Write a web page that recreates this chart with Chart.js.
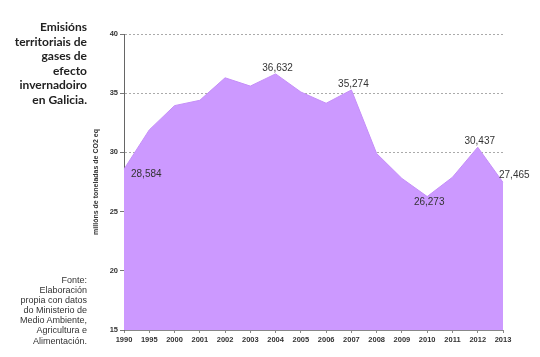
<!DOCTYPE html>
<html>
<head>
<meta charset="utf-8">
<script src="https://cdn.jsdelivr.net/npm/chart.js@4"></script>
<style>
  html,body{margin:0;padding:0;background:#fff;}
  #wrap{position:relative;width:540px;height:357px;}
  #title{position:absolute;right:453px;top:20px;width:90px;text-align:right;font-family:Lato,"Open Sans",sans-serif;font-weight:bold;font-size:12px;line-height:14.6px;color:#222;white-space:nowrap;}
  #source{position:absolute;right:453px;top:275px;width:90px;text-align:right;font-family:"Liberation Sans",Arial,sans-serif;font-size:9px;line-height:10.1px;color:#333;white-space:nowrap;}
  canvas{position:absolute;left:0;top:0;}
</style>
</head>
<body>
<div id="wrap">
  <canvas id="c" width="540" height="357"></canvas>
  <div id="title">Emisións<br>territoriais de<br>gases de<br>efecto<br>invernadoiro<br>en Galicia.</div>
  <div id="source">Fonte:<br>Elaboración<br>propia con datos<br>do Ministerio de<br>Medio Ambiente,<br>Agricultura e<br>Alimentación.</div>
</div>
<script>
const years = ["1990","1995","2000","2001","2002","2003","2004","2005","2006","2007","2008","2009","2010","2011","2012","2013"];
const emissions = [28.584, 31.9, 33.95, 34.4, 36.3, 35.6, 36.632, 35.1, 34.15, 35.274, 29.9, 27.8, 26.273, 27.9, 30.437, 27.465];
const labelledIdx = [0, 6, 9, 12, 14, 15];
const labelPlacement = ["right", "above", "above", "below", "above", "right"];
const yTicks = [15, 20, 25, 30, 35, 40];
const yTitle = "millóns de toneladas de CO2 eq";

function fmt(v){ return v.toFixed(3).replace('.', ','); }

const valueLabels = {
  id: 'valueLabels',
  afterDatasetsDraw(chart) {
    const ctx = chart.ctx;
    const meta = chart.getDatasetMeta(0);
    ctx.save();
    ctx.font = '10px "Liberation Sans", Arial, sans-serif';
    ctx.fillStyle = '#333';
    labelledIdx.forEach((i, k) => {
      const p = meta.data[i];
      const txt = fmt(emissions[i]);
      const place = labelPlacement[k];
      if (place === 'right') {
        ctx.textAlign = 'left'; ctx.textBaseline = 'middle';
        const dy = (i === 0) ? 5 : -7;
        const dx = (i === 0) ? 7 : -4;
        ctx.fillText(txt, p.x + dx, p.y + dy);
      } else if (place === 'above') {
        ctx.textAlign = 'center'; ctx.textBaseline = 'middle';
        ctx.fillText(txt, p.x + 2, p.y - 6);
      } else {
        ctx.textAlign = 'center'; ctx.textBaseline = 'middle';
        ctx.fillText(txt, p.x + 2, p.y + 6);
      }
    });
    ctx.restore();
  }
};

new Chart(document.getElementById('c'), {
  type: 'line',
  data: {
    labels: years,
    datasets: [{
      data: emissions,
      fill: 'start',
      backgroundColor: '#CC99FF',
      borderColor: '#C58FF8',
      borderWidth: 1,
      pointRadius: 0,
      tension: 0
    }]
  },
  options: {
    responsive: false,
    animation: false,
    devicePixelRatio: 1,
    layout: { padding: { left: 88, top: 34, right: 37, bottom: 0 } },
    plugins: { legend: { display: false }, tooltip: { enabled: false } },
    scales: {
      x: {
        offset: false,
        afterFit(s) { s.height = 27; },
        border: { display: true, color: '#888', width: 1 },
        grid: { drawOnChartArea: false, drawTicks: true, tickLength: 3, color: '#888' },
        ticks: {
          autoSkip: false, maxRotation: 0, padding: 2, color: '#333',
          font: { family: '"Liberation Sans", Arial, sans-serif', size: 7.5, weight: 'bold' }
        }
      },
      y: {
        min: 15, max: 40,
        afterFit(s) { s.width = 36; },
        afterBuildTicks(s) { s.ticks = yTicks.map(v => ({ value: v })); },
        border: { display: true, color: '#666', width: 1, dash: [2, 2] },
        grid: {
          color: '#aaa', lineWidth: 1,
          drawTicks: true, tickLength: 4, tickColor: '#777', tickBorderDash: []
        },
        ticks: {
          padding: 2, color: '#333',
          font: { family: '"Liberation Sans", Arial, sans-serif', size: 7.5, weight: 'bold' }
        },
        title: {
          display: true, text: yTitle, color: '#333',
          padding: { top: 4, bottom: 0 },
          font: { family: '"Liberation Sans", Arial, sans-serif', size: 7, weight: 'bold' }
        }
      }
    }
  },
  plugins: [valueLabels]
});
</script>
</body>
</html>
